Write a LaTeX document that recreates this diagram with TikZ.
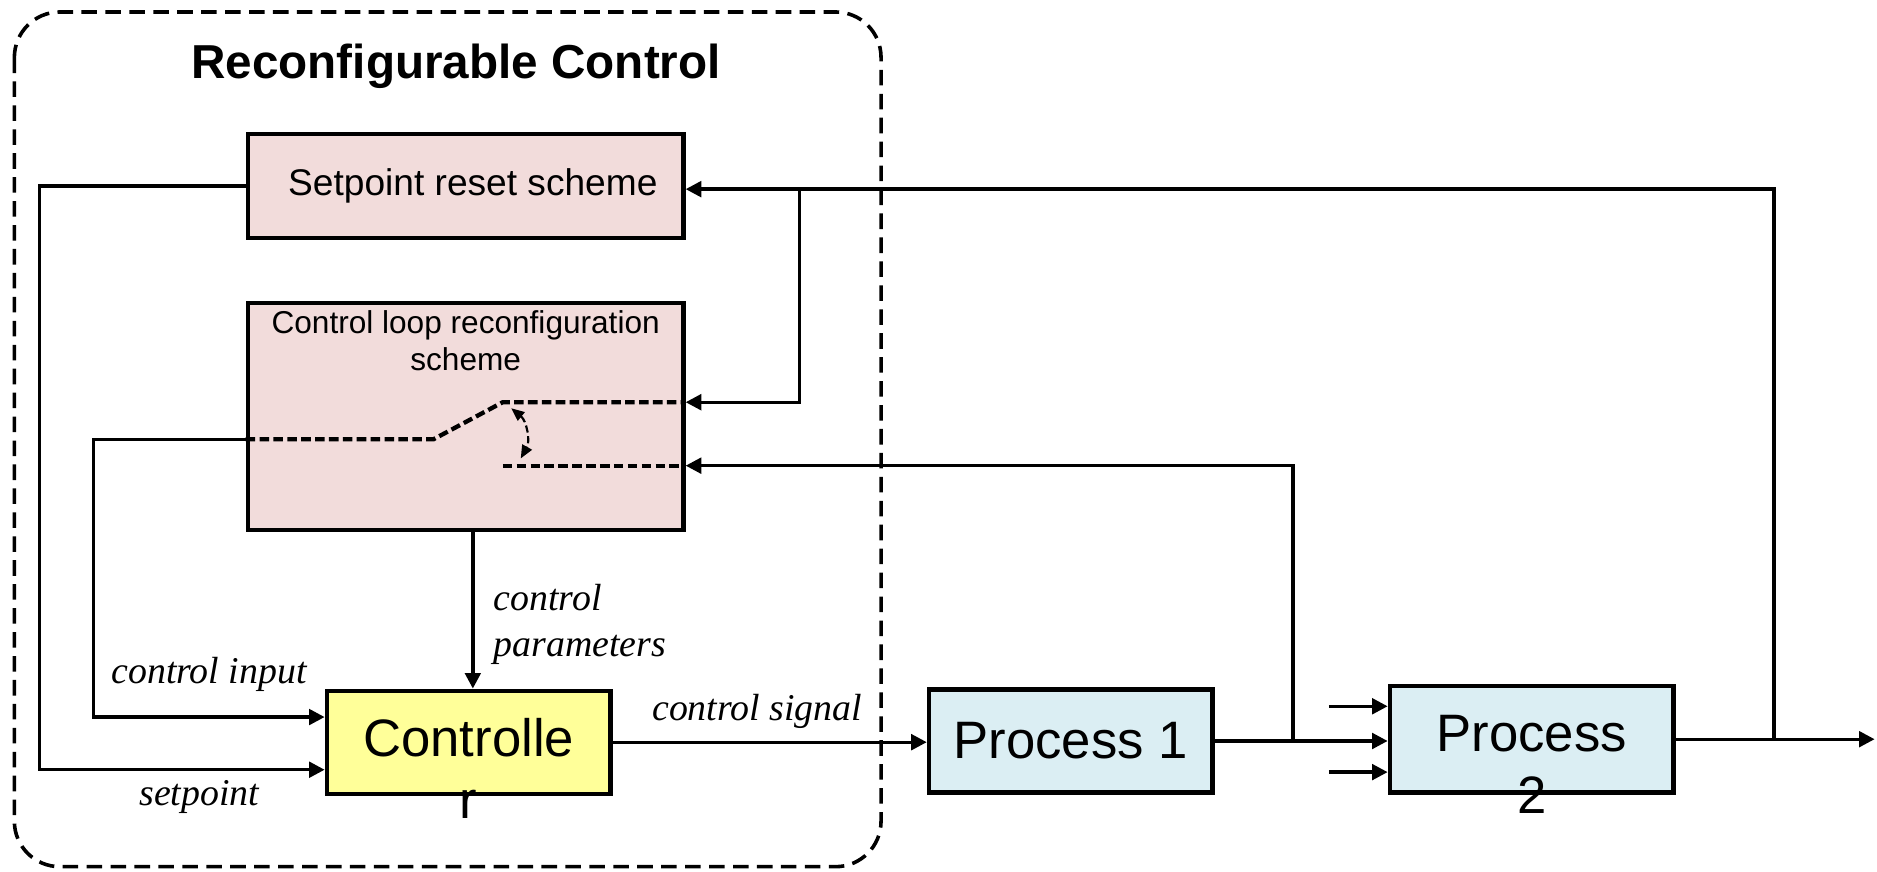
\documentclass[tikz,border=0pt]{standalone}
\usepackage{fontspec}
\setmainfont{Liberation Sans}
\newfontfamily\labelfont{Liberation Serif}
\usetikzlibrary{positioning, arrows.meta}

\definecolor{pinkfill}{RGB}{242,220,219}
\definecolor{ctrlfill}{RGB}{255,255,153}
\definecolor{procfill}{RGB}{219,238,243}

\tikzset{
	blk/.style={draw, line width=1.8pt, inner sep=0pt, minimum width=182pt},
	smallblk/.style={blk, minimum width=118.5pt, minimum height=43pt},
	titletxt/.style={font=\fontsize{19.9}{24}\selectfont\bfseries, inner sep=0pt},
	midtxt/.style={font=\fontsize{13.2}{15.5}\selectfont, align=center, inner sep=0pt},
	bigtxt/.style={font=\fontsize{22}{26}\selectfont, align=center, inner sep=0pt},
	lbl/.style={font=\labelfont\itshape\fontsize{15.8}{19}\selectfont, inner sep=0pt},
	arr/.style={->, line width=1.4pt},
	sw/.style={line width=1.8pt, dash pattern=on 4pt off 1.8pt},
	swarr/.style={<->, line width=0.9pt, dash pattern=on 3pt off 1.5pt, >={Triangle[length=5.5pt,width=4.5pt]}},
	frame/.style={line width=1.5pt, dash pattern=on 6.5pt off 3.5pt, rounded corners=19pt}
}

\begin{document}
\begin{tikzpicture}[x=0.5pt, y=-0.5pt, >={Triangle[length=6.5pt,width=6.5pt]}]
	\useasboundingbox (0,0) rectangle (1568,728);

	% reconfigurable part
	\draw[frame] (12,10) rectangle (736,724);
	\node[titletxt] (title) at (381,55) {Reconfigurable Control};

	\node[blk, fill=pinkfill, minimum height=43.5pt] (reset) at (389,155.5) {};
	\node[midtxt, font=\fontsize{15.5}{18}\selectfont] (resettxt) at ([xshift=3pt]reset.center) {Setpoint reset scheme};
	\node[blk, fill=pinkfill, minimum height=95pt] (reconf) at (389,348) {};
	\node[midtxt, below=4pt of reconf.north] (reconftxt) {Control loop reconfiguration\\scheme};

	\node[smallblk, fill=ctrlfill] (ctrl) at (391.5,620) {};
	\node[bigtxt] (ctrltxt) at ([yshift=-11pt]ctrl.center) {Controlle\\r};

	% plant
	\node[smallblk, fill=procfill, font=\fontsize{22}{26}\selectfont] (p1) at (894.5,619) {Process 1};
	\node[smallblk, fill=procfill, minimum height=44.5pt] (p2) at (1279.5,617.5) {};
	\node[bigtxt] (p2txt) at ([yshift=-10.5pt]p2.center) {Process\\2};

	\coordinate (yout) at (1566,617.5);
	\coordinate (tap1) at (1080,619);
	\coordinate (tap2) at (1482,617.5);
	\coordinate (tap3) at (668,158);

	% switch inside the reconfiguration block
	\draw[sw] (reconf.west |- 0,367) -- (362,367) -- (420,336) -- (reconf.east |- 0,336);
	\draw[sw] (420,389) -- (reconf.east |- 0,389);
	\draw[swarr] (427,341) to[bend left=40] (435,383);

	% signals
	\draw[arr] (reset.west) -- (33,155.5) |- node[lbl, pos=0.78, below=3.8pt] (splbl) {setpoint} (ctrl.west |- 0,643);
	\draw[arr] (reconf.west |- 0,367) -- (78,367) |- node[lbl, pos=0.75, above=10pt] (cilbl) {control input} (ctrl.west |- 0,599);
	\draw[arr] (reconf.south -| 395,0) -- node[lbl, pos=0.59, right=8pt, align=left] (cplbl) {control\\parameters} (ctrl.north -| 395,0);
	\draw[arr] (ctrl.east) -- node[lbl, pos=0.46, above=5pt] (cslbl) {control signal} (p1.west |- ctrl.east);
	\draw[arr] (p1.east) -- (p2.west |- p1.east);
	\draw[arr] (1110,590) -- (p2.west |- 0,590);
	\draw[arr] (1110,645) -- (p2.west |- 0,645);
	\draw[arr] (p2.east) -- (yout);

	% feedback paths
	\draw[arr] (tap2) |- (reset.east |- tap3);
	\draw[arr] (tap3) |- (reconf.east |- 0,336);
	\draw[arr] (tap1) |- (reconf.east |- 0,389);
\end{tikzpicture}
\end{document}
